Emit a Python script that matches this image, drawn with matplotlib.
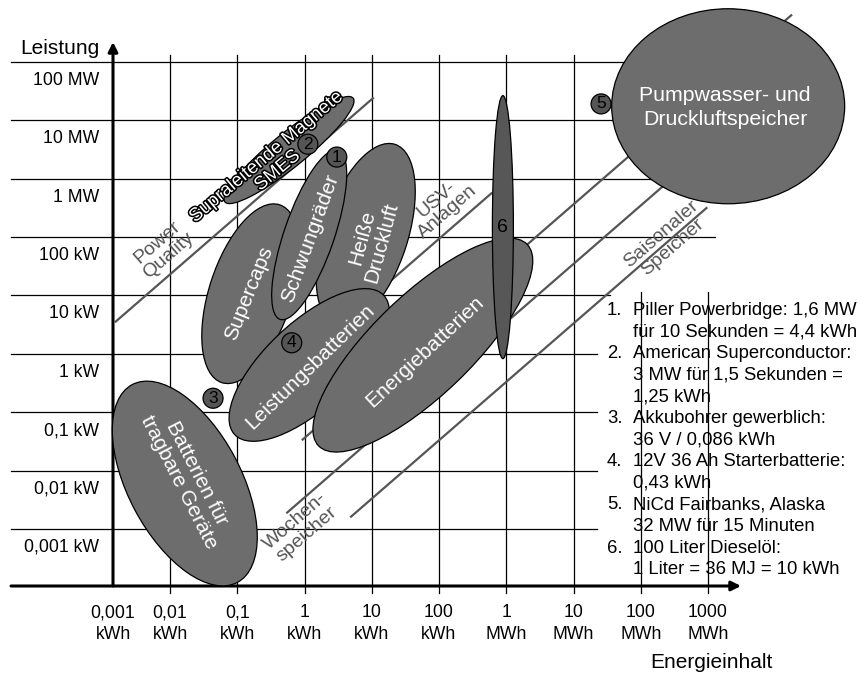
import matplotlib
matplotlib.use("Agg")
import matplotlib.pyplot as plt
import matplotlib.patheffects as pe
from matplotlib.patches import Ellipse
from matplotlib.transforms import IdentityTransform

plt.rcParams['font.family'] = ['Liberation Sans', 'DejaVu Sans']

# axis ticks, log10(kWh) and log10(kW)
energy_ticks = [-3, -2, -1, 0, 1, 2, 3, 4, 5, 6]
energy_top = ['0,001', '0,01', '0,1', '1', '10', '100', '1', '10', '100', '1000']
energy_unit = ['kWh', 'kWh', 'kWh', 'kWh', 'kWh', 'kWh', 'MWh', 'MWh', 'MWh', 'MWh']
power_ticks = [5, 4, 3, 2, 1, 0, -1, -2, -3]
power_labels = ['100 MW', '10 MW', '1 MW', '100 kW', '10 kW', '1 kW',
                '0,1 kW', '0,01 kW', '0,001 kW']

# storage technologies: centre as log10(kWh), log10(kW)
tech_names = ['Supercaps', 'Heiße\nDruckluft', 'Schwungräder',
              'Supraleitende Magnete\nSMES', 'Leistungsbatterien',
              'Energiebatterien', 'Batterien für\ntragbare Geräte', '6',
              'Pumpwasser']
tech_energy = [-0.80, 0.91, 0.07, -0.23, 0.07, 1.76, -1.78, 2.95, 6.30]
tech_power = [1.32, 2.33, 2.33, 3.78, 0.10, 0.44, -1.93, 2.46, 4.53]

# example devices 1..5, log10(kWh), log10(kW)
mark_numbers = ['1', '2', '3', '4', '5']
mark_energy = [0.48, 0.05, -1.36, -0.19, 4.41]
mark_power = [3.66, 3.88, -0.47, 0.48, 4.57]

# constant discharge time lines: log10(hours), energy range log10(kWh)
line_time = [-3.65, -0.26, 1.15, 2.17, 3.19]
line_e0 = [-2.82, 0.80, -0.04, -0.27, 0.68]
line_e1 = [1.03, 2.79, 7.25, 5.80, 5.99]

notes = [
    ('1.', 'Piller Powerbridge: 1,6 MW'),
    ('', 'für 10 Sekunden = 4,4 kWh'),
    ('2.', 'American Superconductor:'),
    ('', '3 MW für 1,5 Sekunden ='),
    ('', '1,25 kWh'),
    ('3.', 'Akkubohrer gewerblich:'),
    ('', '36 V / 0,086 kWh'),
    ('4.', '12V 36 Ah Starterbatterie:'),
    ('', '0,43 kWh'),
    ('5.', 'NiCd Fairbanks, Alaska'),
    ('', '32 MW für 15 Minuten'),
    ('6.', '100 Liter Dieselöl:'),
    ('', '1 Liter = 36 MJ = 10 kWh'),
]

W, H = 862, 675
SX, SY = 67.25, 58.4   # pixels per decade


def px(x, y):
    # picture pixel -> data (log10 kWh, log10 kW)
    return -2 + (x - 170) / SX, -3 + (546 - y) / SY


fig = plt.figure(figsize=(W / 100, H / 100), dpi=100)
ax = fig.add_axes([0, 0, 1, 1])
ax.set_xlim(px(0, 0)[0], px(W, 0)[0])
ax.set_ylim(px(0, H)[1], px(0, 0)[1])
ax.axis('off')

AX_X = px(113, 0)[0]
AX_Y = px(0, 586)[1]
TOP = px(0, 55)[1]
GREY = '#555555'
FILL = '#6d6d6d'

# grid
for e in energy_ticks[1:]:
    y1 = px(0, 292)[1] if e >= 5 else TOP
    ax.plot([e, e], [AX_Y, y1], color='black', lw=0.9, zorder=1)
    ax.plot([e, e], [AX_Y, px(0, 593)[1]], color='black', lw=0.9, zorder=1)
for p in power_ticks:
    yl = p + 0.29
    if p >= 2:
        xr = px(715, 0)[0]
    elif p == 1:
        xr = px(610, 0)[0]
    else:
        xr = px(597, 0)[0]
    ax.plot([px(11, 0)[0], xr], [yl, yl], color='black', lw=0.9, zorder=1)

# axes with arrows
ax.annotate('', xy=(AX_X, px(0, 42)[1]), xytext=(AX_X, AX_Y),
            arrowprops=dict(arrowstyle='-|>', lw=2.2, color='black',
                            shrinkA=0, shrinkB=0, mutation_scale=14), zorder=2)
ax.annotate('', xy=(px(741, 0)[0], AX_Y), xytext=(px(11, 0)[0], AX_Y),
            arrowprops=dict(arrowstyle='-|>', lw=2.2, color='black',
                            shrinkA=0, shrinkB=0, mutation_scale=14), zorder=2)

# discharge time lines
for t, e0, e1 in zip(line_time, line_e0, line_e1):
    ax.plot([e0, e1], [e0 - t, e1 - t], color=GREY, lw=1.6, zorder=2,
            solid_capstyle='butt')


def blob(x, y, length, thick, angle, fc, zorder):
    cx, cy = ax.transData.transform((x, y))
    e = Ellipse((cx, cy), length, thick, angle=angle, transform=IdentityTransform(),
                facecolor=fc, edgecolor='black', lw=0.9, zorder=zorder)
    ax.add_patch(e)


# ellipse shapes in pixels: length, thickness, angle
shapes = [(187, 83, 72), (190, 84, 72), (179, 50, 71), (165, 34, 39),
          (204, 86, 43), (290, 100, 44), (224, 113, -62), (263, 21, 90),
          (233, 195, 0)]
fills = [FILL] * 7 + ['#575757', FILL]
for i, (e, p, s, fc) in enumerate(zip(tech_energy, tech_power, shapes, fills)):
    blob(e, p, s[0], s[1], s[2], fc, 3 + i)

# labels inside ellipses
label_pos = [(249, 293, 68), (372, 240, 75), (310, 238, 70), (272, 164, 40),
             (310, 367, 44), (425, 352, 43), (188, 478, -63)]
for name, (x, y, r) in zip(tech_names[:7], label_pos):
    kw = {}
    if name.startswith('Supra'):
        kw = dict(path_effects=[pe.withStroke(linewidth=2.2, foreground='black')],
                  fontsize=13.5)
    else:
        kw = dict(fontsize=15)
    ax.text(*px(x, y), name, color='white', rotation=r, rotation_mode='anchor',
            ha='center', va='center', linespacing=1.05, zorder=20, **kw)
ax.text(*px(502, 227), '6', color='black', fontsize=14, ha='center',
        va='center', zorder=20)
ax.text(*px(725, 101), 'Pumpwasser- und', color='white', fontsize=15.3,
        ha='center', va='baseline', zorder=20)
ax.text(*px(725, 125), 'Druckluftspeicher', color='white', fontsize=15.3,
        ha='center', va='baseline', zorder=20)

# numbered markers
for n, e, p in zip(mark_numbers, mark_energy, mark_power):
    blob(e, p, 20, 20, 0, '#555555', 15)
    ax.text(e, p, n, color='black', fontsize=12.5, ha='center', va='center',
            zorder=16)

# grey labels on the time lines
for txt, (x, y) in zip(['Power\nQuality', 'USV-\nAnlagen', 'Wochen-\nspeicher',
                        'Saisonaler\nSpeicher'],
                       [(163, 249), (442, 206), (301, 528), (667, 241)]):
    ax.text(*px(x, y), txt, color=GREY, fontsize=14, rotation=41,
            rotation_mode='anchor', ha='center', va='center', linespacing=1.0,
            zorder=2)

# tick labels
for i, (e, top, unit) in enumerate(zip(energy_ticks, energy_top, energy_unit)):
    x = AX_X if i == 0 else e
    ax.text(x, px(0, 617)[1], top, fontsize=12.7, ha='center', va='baseline')
    ax.text(x, px(0, 639)[1], unit, fontsize=12.7, ha='center', va='baseline')
for p, lab in zip(power_ticks, power_labels):
    ax.text(px(99, 0)[0], p - 6 / SY, lab, fontsize=12.7, ha='right',
            va='baseline')

ax.text(*px(99, 54), 'Leistung', fontsize=15, ha='right', va='baseline')
ax.text(*px(711, 668), 'Energieinhalt', fontsize=15, ha='center', va='baseline')

# notes
for k, (num, txt) in enumerate(notes):
    yb = 315 + k * 21.6
    if num:
        ax.text(*px(607, yb), num, fontsize=13.3, ha='left', va='baseline')
    ax.text(*px(633, yb), txt, fontsize=13.3, ha='left', va='baseline')

fig.savefig('out.png', dpi=100)
